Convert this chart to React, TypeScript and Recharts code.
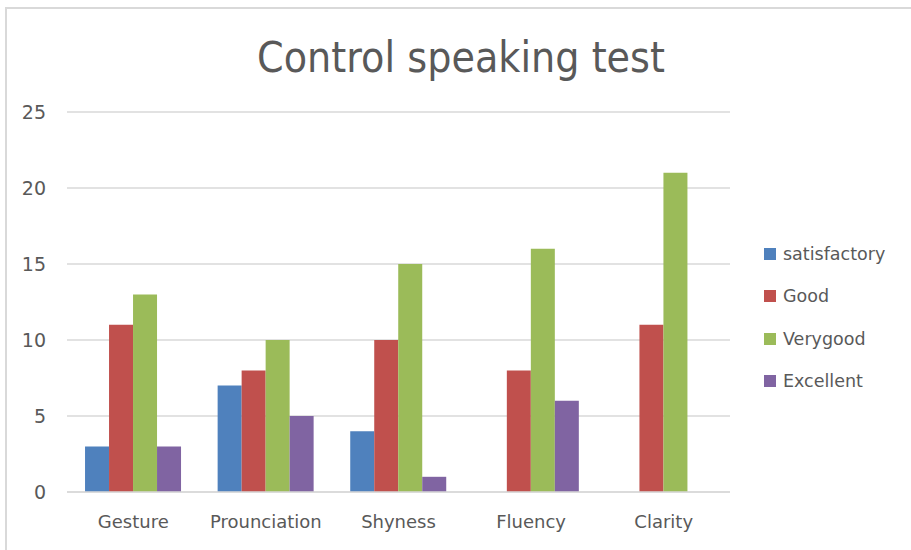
import { BarChart, Bar, XAxis, YAxis, CartesianGrid } from 'recharts';

const categories = ['Gesture', 'Prounciation', 'Shyness', 'Fluency', 'Clarity'];
const satisfactory = [3, 7, 4, 0, 0];
const good = [11, 8, 10, 8, 11];
const veryGood = [13, 10, 15, 16, 21];
const excellent = [3, 5, 1, 6, 0];
const yTicks = [0, 5, 10, 15, 20, 25];

const series = [
  { key: 'satisfactory', name: 'satisfactory', color: '#4F81BD' },
  { key: 'good', name: 'Good', color: '#C0504D' },
  { key: 'veryGood', name: 'Verygood', color: '#9BBB59' },
  { key: 'excellent', name: 'Excellent', color: '#8064A2' },
];

const data = categories.map((name, i) => ({
  name,
  satisfactory: satisfactory[i],
  good: good[i],
  veryGood: veryGood[i],
  excellent: excellent[i],
}));

const textColor = '#595959';
const gridColor = '#D9D9D9';
const font = '"DejaVu Sans", sans-serif';

export default function App() {
  return (
    <div style={{ position: 'absolute', left: 0, top: 0, width: 911, height: 550, background: '#fff', overflow: 'hidden' }}>
      {/* chart frame, only left and top edges are visible */}
      <div
        style={{
          position: 'absolute',
          left: 5,
          top: 7,
          width: 920,
          height: 560,
          borderLeft: `2px solid ${gridColor}`,
          borderTop: `2px solid ${gridColor}`,
        }}
      />
      <svg width={911} height={100} style={{ position: 'absolute', left: 0, top: 0 }}>
        <text
          x={461}
          y={72}
          textAnchor="middle"
          fontFamily={font}
          fontSize={42}
          fill={textColor}
          textLength={408}
          lengthAdjust="spacingAndGlyphs"
        >
          Control speaking test
        </text>
      </svg>
      <div style={{ position: 'absolute', left: 0, top: 0 }}>
        <BarChart
          width={911}
          height={550}
          data={data}
          margin={{ top: 112, right: 181, bottom: 0, left: 0 }}
          barCategoryGap="13.6%"
          barGap={0}
        >
          <CartesianGrid vertical={false} stroke={gridColor} strokeWidth={1.5} />
          <XAxis
            dataKey="name"
            height={58}
            tickLine={false}
            tickSize={0}
            tickMargin={23}
            axisLine={{ stroke: gridColor, strokeWidth: 1.5 }}
            tick={{ fill: textColor, fontSize: 18, fontFamily: font }}
            interval={0}
          />
          <YAxis
            width={67}
            domain={[0, 25]}
            ticks={yTicks}
            axisLine={false}
            tickLine={false}
            tickSize={0}
            tickMargin={21}
            tick={{ fill: textColor, fontSize: 19, fontFamily: font }}
          />
          {series.map((s) => (
            <Bar key={s.key} dataKey={s.key} name={s.name} fill={s.color} isAnimationActive={false} />
          ))}
        </BarChart>
      </div>
      <div style={{ position: 'absolute', left: 764, top: 233, fontFamily: font, fontSize: 17.5, color: textColor }}>
        {series.map((s) => (
          <div key={s.key} style={{ display: 'flex', alignItems: 'center', height: 42.3 }}>
            <div style={{ width: 12, height: 12, background: s.color, marginRight: 7, flexShrink: 0 }} />
            <span style={{ lineHeight: '22px' }}>{s.name}</span>
          </div>
        ))}
      </div>
    </div>
  );
}
